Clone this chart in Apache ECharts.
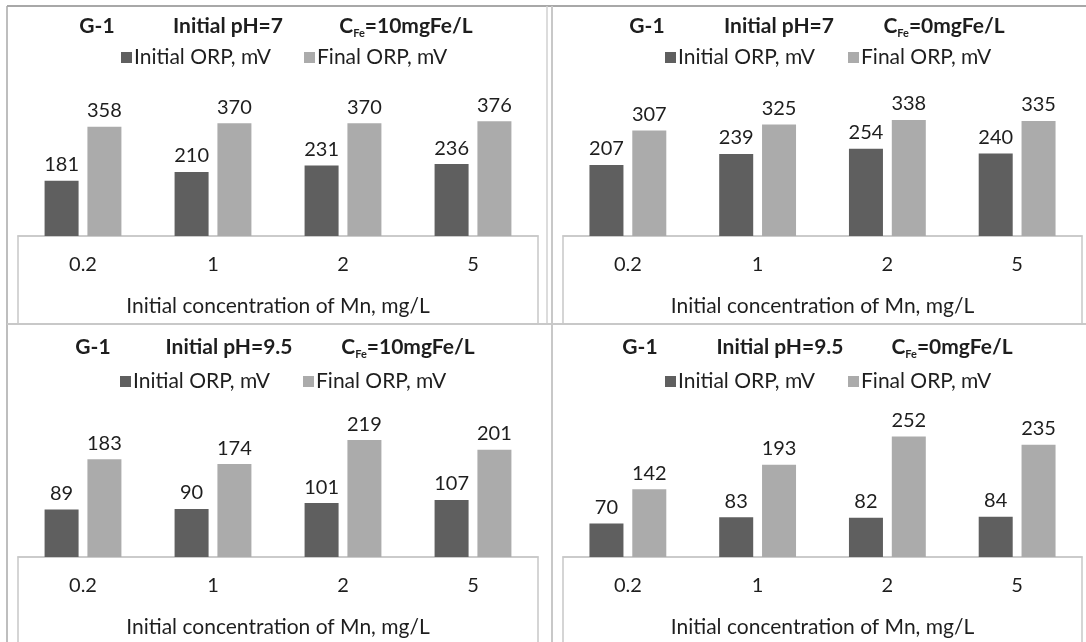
<!DOCTYPE html>
<html>
<head>
<meta charset="utf-8">
<script src="https://cdn.jsdelivr.net/npm/echarts@6/dist/echarts.min.js"></script>
<style>html,body{margin:0;padding:0;background:#fff}#c{width:1086px;height:642px}</style>
</head>
<body>
<div id="c"></div>
<script>
// ---- data ----
const categories = ['0.2', '1', '2', '5'];
const seriesNames = ['Initial ORP, mV', 'Final ORP, mV'];
const panelLabels = ['G-1', 'G-1', 'G-1', 'G-1'];
const phLabels = ['Initial pH=7', 'Initial pH=7', 'Initial pH=9.5', 'Initial pH=9.5'];
const feLabels = ['10mgFe/L', '0mgFe/L', '10mgFe/L', '0mgFe/L'];
const axisTitle = 'Initial concentration of Mn, mg/L';
const initialPH7Fe10 = [181, 210, 231, 236];
const finalPH7Fe10 = [358, 370, 370, 376];
const initialPH7Fe0 = [207, 239, 254, 240];
const finalPH7Fe0 = [307, 325, 338, 335];
const initialPH95Fe10 = [89, 90, 101, 107];
const finalPH95Fe10 = [183, 174, 219, 201];
const initialPH95Fe0 = [70, 83, 82, 84];
const finalPH95Fe0 = [142, 193, 252, 235];

const initialSets = [initialPH7Fe10, initialPH7Fe0, initialPH95Fe10, initialPH95Fe0];
const finalSets = [finalPH7Fe10, finalPH7Fe0, finalPH95Fe10, finalPH95Fe0];

// ---- layout / style ----
const FONT = 'Lato';
const TXT = '#1e1e1e';
const DARK = '#5f5f5f';
const LIGHT = '#ababab';
const panels = [
  {left: 18, width: 520, top: 86, yMax: 492, g1: 97, ph: 228, fe: 406, leg: 121, ty: 26, ly: 47},
  {left: 563, width: 519, top: 86, yMax: 437, g1: 647, ph: 779, fe: 944, leg: 665, ty: 26, ly: 47},
  {left: 18, width: 520, top: 407, yMax: 281, g1: 93, ph: 229, fe: 408, leg: 120, ty: 347, ly: 371},
  {left: 563, width: 519, top: 407, yMax: 314, g1: 640, ph: 780, fe: 952, leg: 665, ty: 347, ly: 371}
];
const GRID_H = 150;

const option = {
  backgroundColor: '#fff',
  animation: false,
  textStyle: {fontFamily: FONT},
  title: [],
  legend: [],
  grid: [],
  xAxis: [],
  yAxis: [],
  series: [],
  graphic: []
};

panels.forEach((p, i) => {
  option.grid.push({left: p.left, top: p.top, width: p.width, height: GRID_H, containLabel: false});
  option.xAxis.push({
    type: 'category', gridIndex: i, data: categories,
    axisLine: {show: true, lineStyle: {color: '#c8c8c8', width: 1.5}},
    axisTick: {show: false},
    axisLabel: {fontFamily: FONT, fontSize: 20, color: TXT, margin: 19},
    name: axisTitle, nameLocation: 'middle', nameGap: 60,
    nameTextStyle: {fontFamily: FONT, fontSize: 21, color: TXT}
  });
  option.yAxis.push({
    type: 'value', gridIndex: i, min: 0, max: p.yMax, show: false,
    splitLine: {show: false}
  });
  const lbl = {show: true, position: 'top', distance: 6, fontFamily: FONT, fontSize: 20, color: TXT};
  option.series.push({
    name: seriesNames[0], type: 'bar', xAxisIndex: i, yAxisIndex: i,
    data: initialSets[i], barWidth: 34, barGap: '26%',
    itemStyle: {color: DARK}, label: lbl
  });
  option.series.push({
    name: seriesNames[1], type: 'bar', xAxisIndex: i, yAxisIndex: i,
    data: finalSets[i], barWidth: 34, barGap: '26%',
    itemStyle: {color: LIGHT}, label: lbl
  });
  const ts = {fontFamily: FONT, fontSize: 21, fontWeight: 'bold', color: TXT};
  option.title.push({text: panelLabels[i], left: p.g1, top: p.ty, textAlign: 'center', textVerticalAlign: 'middle', padding: 0, textStyle: ts});
  option.title.push({text: phLabels[i], left: p.ph, top: p.ty, textAlign: 'center', textVerticalAlign: 'middle', padding: 0, textStyle: ts});
  option.title.push({
    text: 'C{sub|Fe}=' + feLabels[i], left: p.fe, top: p.ty, textAlign: 'center', textVerticalAlign: 'middle', padding: 0,
    textStyle: Object.assign({}, ts, {lineHeight: 26, rich: {
      sub: {fontFamily: FONT, fontSize: 11, fontWeight: 'bold', color: TXT, lineHeight: 13, verticalAlign: 'bottom'}
    }})
  });
  option.legend.push({
    data: seriesNames, left: p.leg, top: p.ly, padding: 0,
    itemWidth: 11, itemHeight: 11, itemGap: 33, icon: 'rect',
    selectedMode: false,
    textStyle: {fontFamily: FONT, fontSize: 21, color: TXT, padding: [0, 0, 0, -3]}
  });
  // x-axis box
  option.graphic.push({
    type: 'rect', silent: true, z: -1,
    shape: {x: p.left, y: p.top + GRID_H, width: p.width, height: p.top < 200 ? 324 - (p.top + GRID_H) : 100},
    style: {fill: 'none', stroke: '#c8c8c8', lineWidth: 1.5}
  });
});

// panel frame lines
option.graphic.push(
  {type: 'line', silent: true, shape: {x1: 7, y1: 6, x2: 1086, y2: 6}, style: {stroke: '#a8a8a8', lineWidth: 2}},
  {type: 'line', silent: true, shape: {x1: 7, y1: 6, x2: 7, y2: 642}, style: {stroke: '#a8a8a8', lineWidth: 1.5}},
  {type: 'line', silent: true, shape: {x1: 547, y1: 6, x2: 547, y2: 324}, style: {stroke: '#d0d0d0', lineWidth: 1.5}},
  {type: 'line', silent: true, shape: {x1: 552, y1: 6, x2: 552, y2: 642}, style: {stroke: '#c8c8c8', lineWidth: 2}},
  {type: 'line', silent: true, shape: {x1: 7, y1: 324, x2: 1086, y2: 324}, style: {stroke: '#c8c8c8', lineWidth: 2}}
);

const chart = echarts.init(document.getElementById('c'), null, {renderer: 'canvas'});
chart.setOption(option);
</script>
</body>
</html>
